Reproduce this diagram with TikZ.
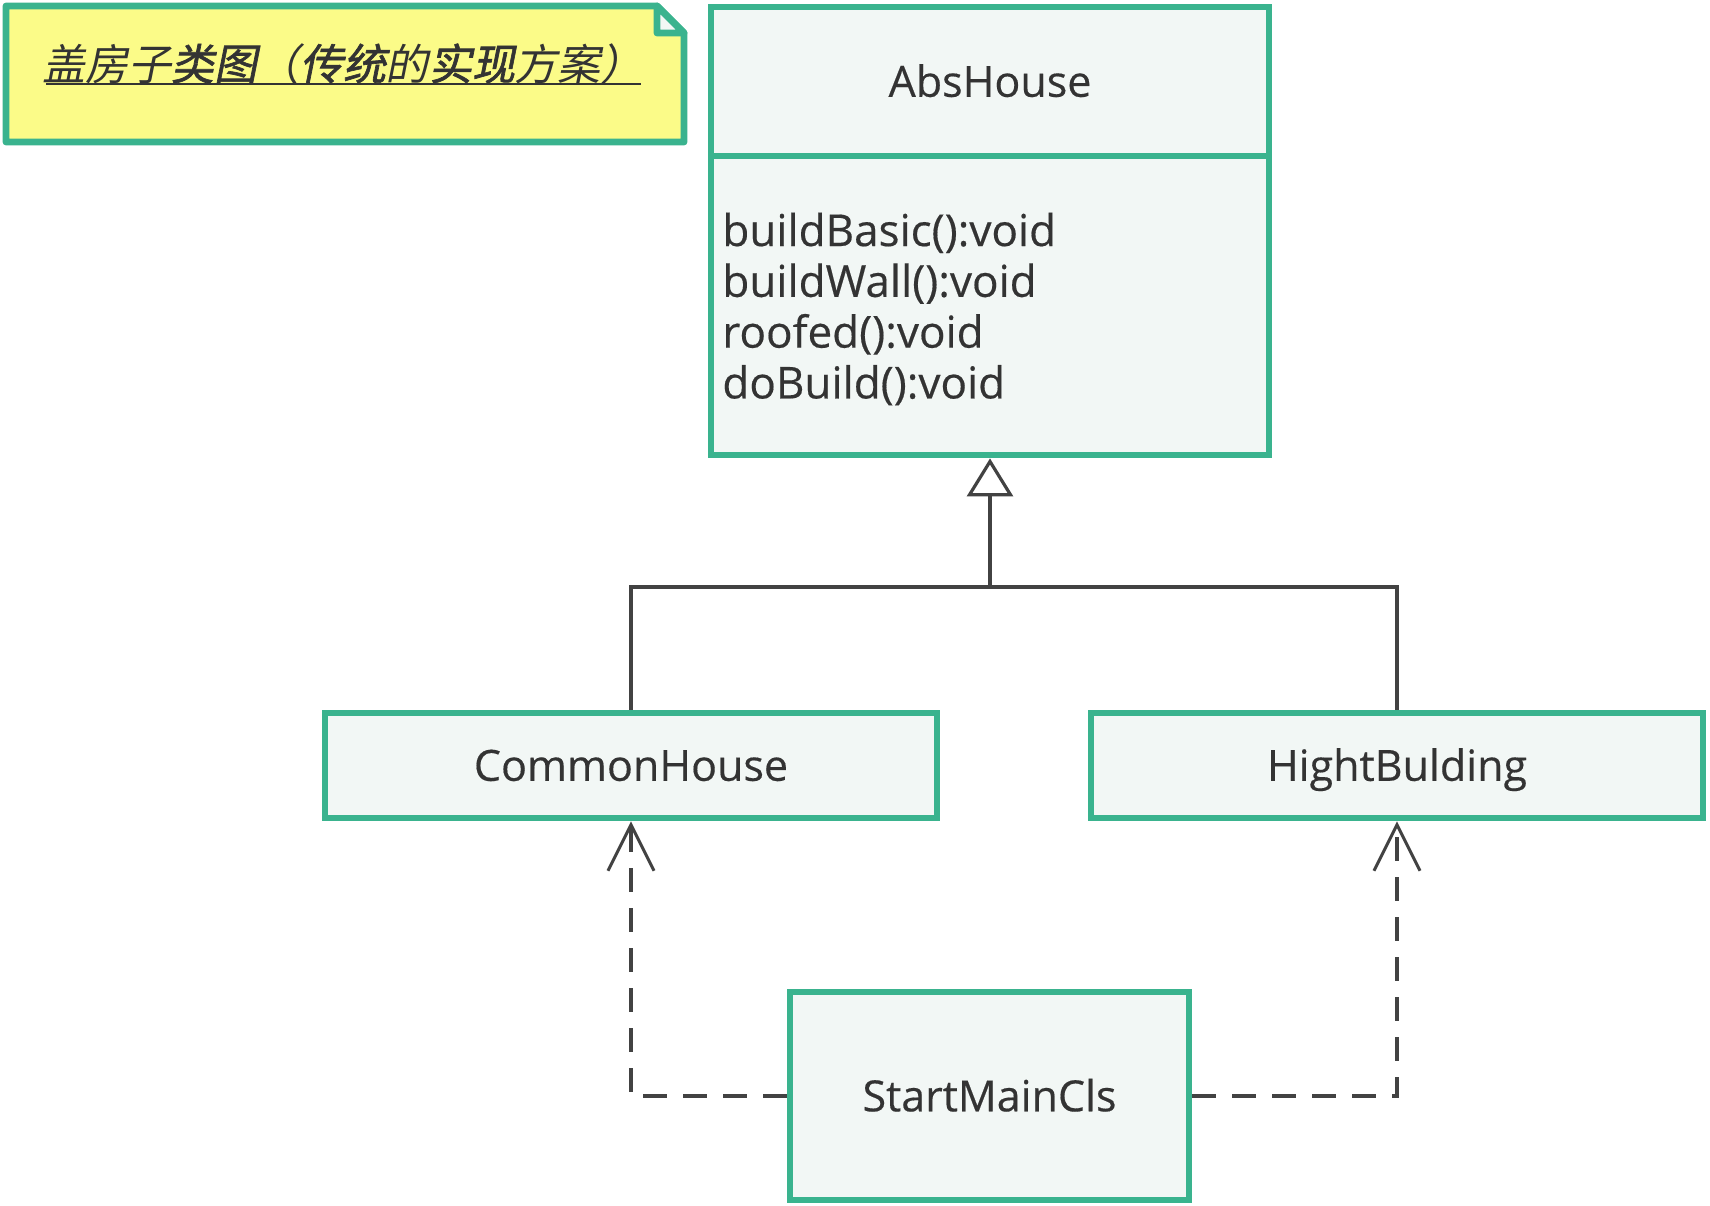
\documentclass[tikz,border=0pt]{standalone}
\usepackage{fontspec}
\usetikzlibrary{arrows.meta}
\newfontfamily\lat[FakeBold=0.35]{Open Sans}
\newfontfamily\cjk[FakeSlant=0.2]{Noto Sans CJK SC}
\newfontfamily\cjkb[FakeSlant=0.2,FakeBold=1.5]{Noto Sans CJK SC}
\definecolor{grn}{HTML}{3AB38E}
\definecolor{boxfill}{HTML}{F2F7F5}
\definecolor{notefill}{HTML}{FBFB88}
\definecolor{ln}{HTML}{424242}
\definecolor{txt}{HTML}{333333}
\tikzset{
  cls/.style={draw=grn, line width=3.4pt, fill=boxfill, rectangle, inner sep=0pt,
    text=txt, font=\lat\fontsize{21.5}{26}\selectfont, text height=15.3pt, text depth=0pt},
  conn/.style={draw=ln, line width=1.6pt},
  dep/.style={conn, line width=1.8pt, dash pattern=on 12pt off 8pt, -{Straight Barb[length=23pt,width=23pt,line width=1.5pt]}},
}
\begin{document}
\begin{tikzpicture}[x=0.5pt,y=-0.5pt]
\useasboundingbox (0,0) rectangle (1710,1206);
% note
\draw[draw=grn, line width=3.4pt, fill=notefill, line join=round]
  (6,6) -- (657,6) -- (684,33) -- (684,142) -- (6,142) -- cycle;
\draw[draw=grn, line width=3.4pt, fill=boxfill, line join=round]
  (657,6) -- (684,33) -- (657,33) -- cycle;
\node[text=txt, inner sep=0pt, anchor=base] (ttl) at (343,80)
  {\fontsize{21.5}{24}\selectfont\cjk 盖房子{\cjkb 类图}（{\cjkb 传统}的{\cjkb 实现}方案）};
\draw[draw=txt, line width=1pt] (46,84) -- (641,84);
% classes
\node[cls, minimum width=279pt, minimum height=74.5pt] (absT) at (990,81.5) {AbsHouse};
\node[cls, minimum width=279pt, minimum height=149.5pt] (absB) at (990,305.5) {};
\node[text=txt, anchor=west, align=left, inner sep=0pt, font=\lat\fontsize{22}{25.4}\selectfont] (meth) at (722,309)
  {buildBasic():void\\buildWall():void\\roofed():void\\doBuild():void};
\node[cls, minimum width=306pt, minimum height=52.5pt] (ch) at (631,765.5) {CommonHouse};
\node[cls, minimum width=306pt, minimum height=52.5pt] (hb) at (1397,765.5) {HightBulding};
\node[cls, minimum width=199.5pt, minimum height=104pt] (smc) at (989.5,1096) {StartMainCls};
% inheritance
\coordinate (jn) at (990,587);
\draw[conn] (ch.north) |- (jn);
\draw[conn] (hb.north) |- (jn);
\draw[conn, -{Triangle[open, length=19pt, width=23pt, line width=1.6pt]}, fill=white] (jn) -- (absB.south);
% dependencies
\draw[dep] (smc.west) -| (ch.south);
\draw[dep] (smc.east) -| (hb.south);
\end{tikzpicture}
\end{document}
